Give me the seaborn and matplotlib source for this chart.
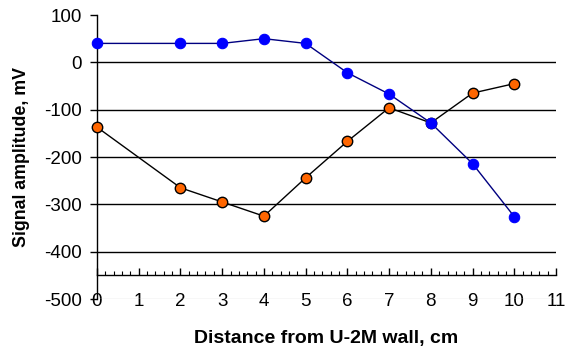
import matplotlib
matplotlib.use("Agg")
import matplotlib.pyplot as plt
import seaborn as sns
import numpy as np
from matplotlib.ticker import MultipleLocator

# Data
distance = [0, 2, 3, 4, 5, 6, 7, 8, 9, 10]
series_blue = [40, 40, 40, 50, 40, -22, -67, -128, -214, -326]
series_orange = [-137, -265, -295, -325, -244, -167, -96, -128, -65, -45]
x_ticks = list(range(0, 12))
y_ticks = [-500, -400, -300, -200, -100, 0, 100]

sns.set_style("white")
plt.rcParams['font.family'] = ['Liberation Sans', 'DejaVu Sans']
plt.rcParams['axes.unicode_minus'] = False
plt.rcParams['text.color'] = 'black'
plt.rcParams['axes.labelcolor'] = 'black'
plt.rcParams['xtick.color'] = 'black'
plt.rcParams['ytick.color'] = 'black'

fig = plt.figure(figsize=(5.67, 3.51), dpi=100)
ax = fig.add_axes([97/567, 1 - 299/351, (556-97)/567, (299-15)/351])

# gridlines
for yv in [0, -100, -200, -300, -400]:
    ax.axhline(yv, color='black', lw=1.0, zorder=1)
ax.axhline(-500, color='#d9d9d9', lw=1.0, zorder=1)

sns.lineplot(x=distance, y=series_orange, ax=ax, color='black', lw=1.0,
             marker='o', markersize=7.5, markerfacecolor='#FF6600',
             markeredgecolor='black', markeredgewidth=1.0, clip_on=False, zorder=3)
sns.lineplot(x=distance, y=series_blue, ax=ax, color='#000080', lw=1.0,
             marker='o', markersize=7.5, markerfacecolor='#0000FF',
             markeredgecolor='#0000FF', markeredgewidth=0.8, clip_on=False, zorder=4)

ax.set_xlim(0, 11)
ax.set_ylim(-500, 100)
ax.set_yticks(y_ticks)
ax.set_yticklabels([str(v) for v in y_ticks])
ax.set_xticks(x_ticks)
ax.set_xticklabels([str(v) for v in x_ticks])
ax.xaxis.set_minor_locator(MultipleLocator(0.2))

for s in ['top', 'right']:
    ax.spines[s].set_visible(False)
ax.spines['left'].set_color('black')
ax.spines['left'].set_linewidth(1.0)
ax.spines['bottom'].set_position(('data', -450))
ax.spines['bottom'].set_color('black')
ax.spines['bottom'].set_linewidth(1.0)

ax.tick_params(axis='y', which='major', direction='out', length=5, width=1,
               color='black', labelcolor='black', labelsize=13.5, pad=6, left=True)
ax.tick_params(axis='x', which='major', direction='in', length=5, width=1,
               color='black', labelcolor='black', labelsize=13.5, pad=13, bottom=True)
ax.tick_params(axis='x', which='minor', direction='in', length=3, width=0.8,
               color='black', bottom=True)

ax.set_xlabel('Distance from U-2M wall, cm', fontsize=14, fontweight='bold',
              labelpad=14, color='black')
ax.set_ylabel('Signal amplitude, mV', fontsize=12.8, fontweight='bold',
              labelpad=10, color='black')
ax.set_facecolor('white')
fig.patch.set_facecolor('white')

fig.savefig('out.png', dpi=100)
